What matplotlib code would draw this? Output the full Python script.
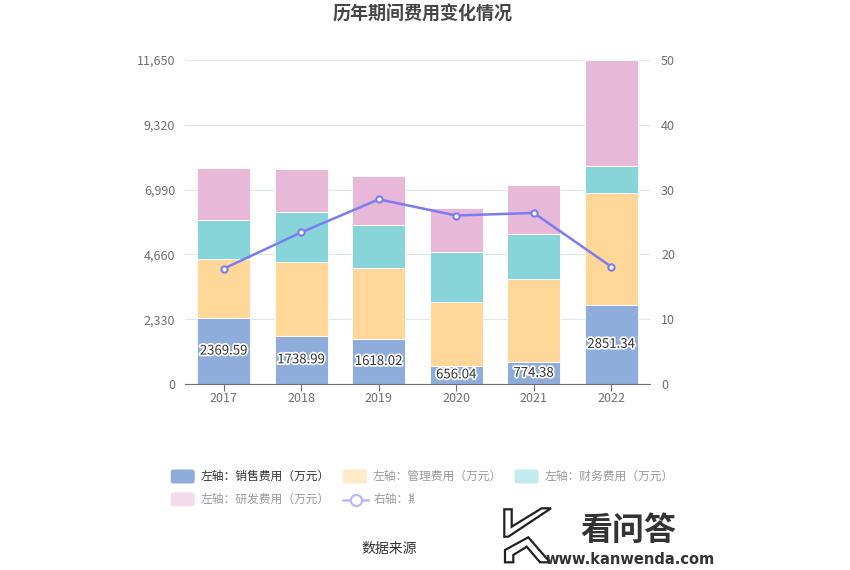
import matplotlib
matplotlib.use("Agg")
import matplotlib.pyplot as plt
import matplotlib.patheffects as pe
from matplotlib.patches import FancyBboxPatch, Rectangle, Polygon
from matplotlib.lines import Line2D
import numpy as np

plt.rcParams['font.family'] = ['Noto Sans CJK SC', 'DejaVu Sans']

years = ['2017', '2018', '2019', '2020', '2021', '2022']
sales = [2369.59, 1738.99, 1618.02, 656.04, 774.38, 2851.34]
admin = [2128, 2662, 2566, 2278, 2989, 4002]
finance = [1392, 1767, 1527, 1827, 1648, 986]
rnd = [1890, 1551, 1755, 1551, 1731, 3805]
rate = [17.8, 23.4, 28.5, 26.0, 26.4, 18.1]

left_ticks = [0, 2330, 4660, 6990, 9320, 11650]
right_ticks = [0, 10, 20, 30, 40, 50]

series_names = ['左轴：销售费用（万元）', '左轴：管理费用（万元）', '左轴：财务费用（万元）',
                '左轴：研发费用（万元）', '右轴：期间费用率（%）']
colors = ['#8FADDB', '#FFD899', '#87D5D8', '#E7B8D8']
line_color = '#7C7CF2'

W, H = 850, 570
fig = plt.figure(figsize=(W / 100, H / 100), dpi=100)

def fx(x):
    return x / W

def fy(y):
    return 1 - y / H

ax = fig.add_axes([fx(185), fy(384), fx(650) - fx(185), fy(60) - fy(384)])
ax2 = ax.twinx()

x = np.arange(len(years))
bw = 0.685
bottom = np.zeros(len(years))
for vals, c in zip([sales, admin, finance, rnd], colors):
    ax.bar(x, vals, bw, bottom=bottom, color=c, edgecolor='white', linewidth=0.6, zorder=2)
    bottom += np.array(vals)

for xi, v in zip(x, sales):
    ax.text(xi, v / 2, f'{v:.2f}', ha='center', va='center', fontsize=9.5, color='#333333',
            zorder=5, path_effects=[pe.withStroke(linewidth=2.5, foreground='white')])

ax.set_xlim(-0.5, len(years) - 0.5)
ax.set_ylim(0, 11650)
ax.set_yticks(left_ticks)
ax.set_yticklabels([f'{t:,}' for t in left_ticks])
ax.set_xticks(x)
ax.set_xticklabels(years)
ax.grid(axis='y', color='#E0E6F1', linewidth=0.8, zorder=0)
ax.set_axisbelow(True)
for s in ['top', 'right', 'left']:
    ax.spines[s].set_visible(False)
ax.spines['bottom'].set_color('#6E7079')
ax.tick_params(axis='y', length=0, labelsize=9, labelcolor='#6E7079', pad=7)
ax.tick_params(axis='x', length=5, color='#6E7079', labelsize=9, labelcolor='#6E7079', pad=1)

ax2.plot(x, rate, color=line_color, linewidth=1.8, marker='o', markersize=4.5,
         markerfacecolor='white', markeredgecolor=line_color, markeredgewidth=1.5, zorder=6)
ax2.set_ylim(0, 50)
ax2.set_yticks(right_ticks)
for s in ['top', 'right', 'left', 'bottom']:
    ax2.spines[s].set_visible(False)
ax2.tick_params(axis='y', length=0, labelsize=9, labelcolor='#6E7079', pad=8)

fig.text(fx(423), fy(14), '历年期间费用变化情况', ha='center', va='center', fontsize=13,
         fontweight='bold', color='#464646')

# legend (manual layout)
icon_colors = ['#8FADDB', '#FFEBC8', '#C3EAEC', '#F4DBEC']
text_colors = ['#333333', '#9A9A9A', '#9A9A9A', '#9A9A9A', '#9A9A9A']
positions = [(170.7, 476.5), (342.9, 476.5), (514.6, 476.5), (170.7, 499.5), (343.2, 499.5)]
text_x = [200.4, 372.9, 544.6, 200.4, 374]
for i in range(4):
    px, py = positions[i]
    fig.patches.append(FancyBboxPatch((fx(px), fy(py + 7)), fx(24), 14 / H,
                                      boxstyle='round,pad=0,rounding_size=0.004',
                                      transform=fig.transFigure, facecolor=icon_colors[i],
                                      edgecolor='none'))
for i in range(5):
    fig.text(fx(text_x[i]), fy(positions[i][1]), series_names[i], ha='left', va='center',
             fontsize=8.5, color=text_colors[i])
lx, ly = positions[4]
fig.lines.append(Line2D([fx(lx), fx(lx + 25)], [fy(ly), fy(ly)], transform=fig.transFigure,
                        color='#B9B9F8', linewidth=1.8))
fig.lines.append(Line2D([fx(lx + 12.5)], [fy(ly)], transform=fig.transFigure, marker='o',
                        markersize=8, markerfacecolor='white', markeredgecolor='#B9B9F8',
                        markeredgewidth=1.6, color='#B9B9F8'))

fig.text(fx(389), fy(548.5), '数据来源', ha='center', va='center', fontsize=10, color='#333333')

# watermark
fig.patches.append(Rectangle((fx(414), fy(540)), fx(320), fy(489) - fy(540),
                             transform=fig.transFigure,
                             facecolor='white', edgecolor='none', zorder=10))
fig.patches.append(Rectangle((fx(490), 0), fx(240), fy(489), transform=fig.transFigure,
                             facecolor='white', edgecolor='none', zorder=10))
logo1 = [(504.3, 509.3), (511.7, 509.3), (511.7, 526.7), (541.7, 508.3), (551, 508.3),
         (508.3, 536.7), (504.3, 536.7)]
logo2 = [(505, 550), (528.3, 537.3), (550, 562.3), (540, 562.3), (526.7, 546.7),
         (513.3, 555), (513.3, 562.3), (505, 562.3)]
for poly in [logo1, logo2]:
    fig.patches.append(Polygon([(fx(a), fy(b)) for a, b in poly], closed=True,
                               transform=fig.transFigure, facecolor='white',
                               edgecolor='#222222', linewidth=1.6, zorder=11))
fig.text(fx(628), fy(531), '看问答', ha='center', va='center', fontsize=23, fontweight='bold',
         color='#333333', zorder=13)
fig.text(fx(630), fy(560), 'www.kanwenda.com', ha='center', va='center', fontsize=10.5,
         fontweight='bold', color='#333333', family=['DejaVu Sans'], zorder=13)

fig.savefig('out.png', dpi=100)
